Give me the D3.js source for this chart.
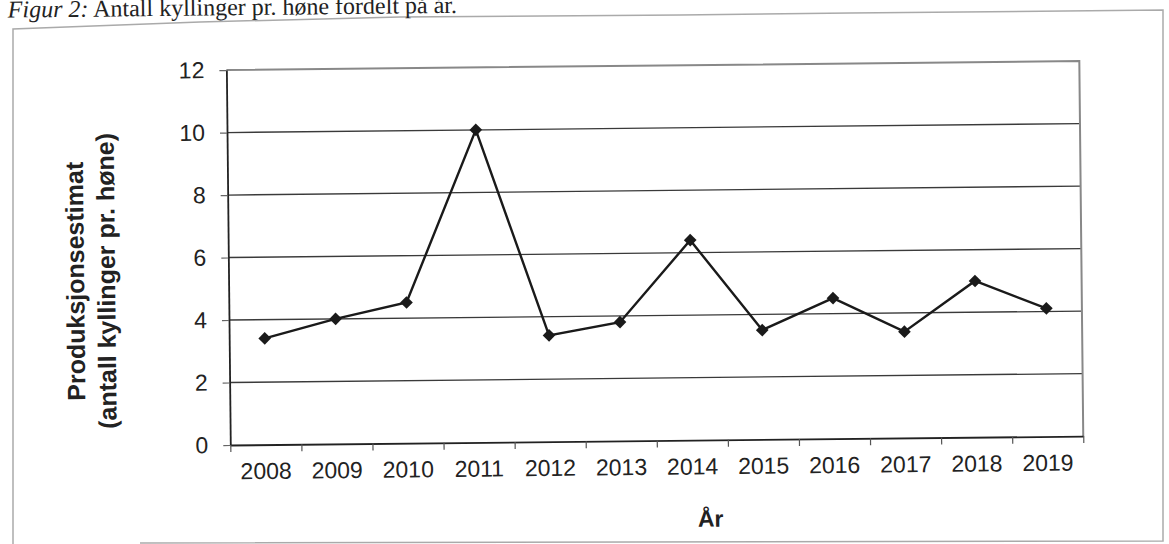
<!DOCTYPE html>
<html>
<head>
<meta charset="utf-8">
<script src="https://cdn.jsdelivr.net/npm/d3@7"></script>
<style>
  body { margin: 0; background: #fff; }
  svg { display: block; }
  .tick text { font-family: "Liberation Sans", Arial, sans-serif; }
</style>
</head>
<body>
<div id="chart"></div>
<script>
// data
const years = ['2008', '2009', '2010', '2011', '2012', '2013', '2014', '2015', '2016', '2017', '2018', '2019'];
const chicks = [3.4, 4.0, 4.5, 10.0, 3.4, 3.8, 6.4, 3.5, 4.5, 3.4, 5.0, 4.1];
const yTicks = [0, 2, 4, 6, 8, 10, 12];

const W = 1169, H = 544;
const plot = { left: 228.5, right: 1081.5, top: 66.3, bottom: 441.3 };

const svg = d3.select('#chart')
    .append('svg')
    .attr('width', W)
    .attr('height', H);

// outer frame of the scanned page (slightly bent)
svg.append('path')
    .attr('d', 'M13,544 L13,29 L200,22 L400,17 L680,15 L850,13 L1163,10 L1163,541 L140,543')
    .attr('fill', 'none')
    .attr('stroke', '#aaa')
    .attr('stroke-width', 1.5);

// the scan is tilted a little
const g = svg.append('g')
    .attr('transform', 'rotate(-0.6, 584, 272)');

// caption
const cap = g.append('text')
    .attr('x', 10.5)
    .attr('y', 11.5)
    .style('font-family', '"Liberation Serif", "Times New Roman", serif')
    .style('font-size', '24px')
    .style('fill', '#222');
cap.append('tspan').style('font-style', 'italic').text('Figur 2:');
cap.append('tspan').text(' Antall kyllinger pr. høne fordelt på år.');

const x = d3.scaleBand()
    .domain(years)
    .range([plot.left, plot.right])
    .padding(0);

const xEdge = d3.scaleLinear()
    .domain([0, years.length])
    .range([plot.left, plot.right]);

const y = d3.scaleLinear()
    .domain([0, 12])
    .range([plot.bottom, plot.top]);

// gridlines
g.selectAll('.grid')
    .data(yTicks.filter(d => d > 0 && d < 12))
    .join('line')
    .attr('class', 'grid')
    .attr('x1', plot.left)
    .attr('x2', plot.right)
    .attr('y1', d => y(d))
    .attr('y2', d => y(d))
    .attr('stroke', '#3a3a3a')
    .attr('stroke-width', 1.3);

// plot border top & right
g.append('path')
    .attr('d', `M${plot.left},${y(12)} L${plot.right},${y(12)} L${plot.right},${plot.bottom}`)
    .attr('fill', 'none')
    .attr('stroke', '#888')
    .attr('stroke-width', 2);

// y axis
const yAxis = g.append('g')
    .attr('transform', `translate(${plot.left},0)`)
    .call(d3.axisLeft(y).tickValues(yTicks).tickSize(7).tickPadding(15).tickSizeOuter(0));
yAxis.select('.domain').attr('stroke', '#222').attr('stroke-width', 1.8);
yAxis.selectAll('.tick line').attr('stroke', '#666').attr('stroke-width', 1.2);
yAxis.selectAll('.tick text').style('font-size', '23px').attr('fill', '#222');

// x axis: labels centred in each band
const xAxis = g.append('g')
    .attr('transform', `translate(0,${plot.bottom})`)
    .call(d3.axisBottom(x).tickSize(0).tickPadding(18).tickSizeOuter(0));
xAxis.select('.domain').attr('stroke', '#222').attr('stroke-width', 1.8);
xAxis.selectAll('.tick text').style('font-size', '23px').attr('fill', '#222');

// x axis: tick marks on band edges
const xTicks = g.append('g')
    .attr('transform', `translate(0,${plot.bottom})`)
    .call(d3.axisBottom(xEdge).tickValues(d3.range(years.length + 1)).tickSize(7).tickFormat(''));
xTicks.select('.domain').remove();
xTicks.selectAll('.tick line').attr('stroke', '#555').attr('stroke-width', 1.2);

// series line
const line = d3.line()
    .x((d, i) => x(years[i]) + x.bandwidth() / 2)
    .y(d => y(d));

g.append('path')
    .datum(chicks)
    .attr('d', line)
    .attr('fill', 'none')
    .attr('stroke', '#1a1a1a')
    .attr('stroke-width', 2.4)
    .attr('stroke-linejoin', 'miter');

// diamond markers
g.selectAll('.marker')
    .data(chicks)
    .join('path')
    .attr('class', 'marker')
    .attr('d', d3.symbol(d3.symbolSquare, 80))
    .attr('transform', (d, i) => `translate(${x(years[i]) + x.bandwidth() / 2},${y(d)}) rotate(45)`)
    .attr('fill', '#1a1a1a');

// axis titles
g.append('text')
    .attr('x', 708)
    .attr('y', 528)
    .attr('text-anchor', 'middle')
    .style('font-family', '"Liberation Sans", Arial, sans-serif')
    .style('font-weight', 'bold')
    .style('font-size', '23px')
    .style('fill', '#222')
    .text('År');

const yTitle = g.append('text')
    .attr('transform', 'translate(0,276) rotate(-90)')
    .attr('text-anchor', 'middle')
    .style('font-family', '"Liberation Sans", Arial, sans-serif')
    .style('font-weight', 'bold')
    .style('font-size', '25px')
    .style('fill', '#222');
yTitle.append('tspan').attr('x', 0).attr('y', 84).text('Produksjonsestimat');
yTitle.append('tspan').attr('x', 0).attr('y', 115).text('(antall kyllinger pr. høne)');
</script>
</body>
</html>
